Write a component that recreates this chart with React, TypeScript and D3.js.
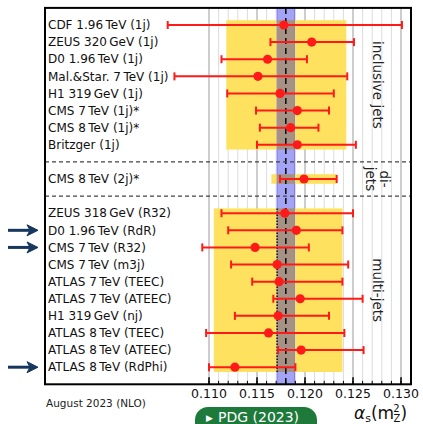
import * as d3 from 'd3'

// measurements, top to bottom
const labels = [
  'CDF 1.96\u2009TeV (1j)',
  'ZEUS 320\u2009GeV (1j)',
  'D0 1.96\u2009TeV (1j)',
  'Mal.&Star. 7\u2009TeV (1j)',
  'H1 319\u2009GeV (1j)',
  'CMS 7\u2009TeV (1j)*',
  'CMS 8\u2009TeV (1j)*',
  'Britzger (1j)',
  'CMS 8\u2009TeV (2j)*',
  'ZEUS 318\u2009GeV (R32)',
  'D0 1.96\u2009TeV (RdR)',
  'CMS 7\u2009TeV (R32)',
  'CMS 7\u2009TeV (m3j)',
  'ATLAS 7\u2009TeV (TEEC)',
  'ATLAS 7\u2009TeV (ATEEC)',
  'H1 319\u2009GeV (nj)',
  'ATLAS 8\u2009TeV (TEEC)',
  'ATLAS 8\u2009TeV (ATEEC)',
  'ATLAS 8\u2009TeV (RdPhi)',
]
const central = [
  0.1178, 0.1207, 0.1161, 0.1151, 0.1174, 0.1192, 0.1185, 0.1192,
  0.1199,
  0.1179, 0.1191, 0.1148, 0.1171, 0.1173, 0.1195, 0.1172, 0.1162, 0.1196, 0.1127,
]
const low = [
  0.1057, 0.1164, 0.1113, 0.1064, 0.1119, 0.1149, 0.1153, 0.1150,
  0.1174,
  0.1113, 0.1120, 0.1093, 0.1123, 0.1145, 0.1167, 0.1127, 0.1097, 0.1172, 0.1100,
]
const high = [
  0.1301, 0.1251, 0.1202, 0.1244, 0.1230, 0.1225, 0.1214, 0.1253,
  0.1233,
  0.1250, 0.1239, 0.1204, 0.1245, 0.1239, 0.1260, 0.1225, 0.1241, 0.1261, 0.1190,
]
const highlighted = ['D0 1.96\u2009TeV (RdR)', 'CMS 7\u2009TeV (R32)', 'ATLAS 8\u2009TeV (RdPhi)']

// groups
const groupSizes = [8, 1, 10]
const groupNames = [['inclusive jets'], ['di-', 'jets'], ['multi-jets']]
const groupLow = [0.1118, 0.1165, 0.1105]
const groupHigh = [0.1243, 0.1233, 0.1239]
const groupAverage = [null, null, 0.1171]

const pdgValue = 0.118
const pdgError = 0.0009

const W = 423
const H = 424
const font = 'DejaVu Sans, sans-serif'

export default function App() {
  const x = d3.scaleLinear().domain([0.11, 0.13]).range([209, 401])
  const y = d3.scaleLinear().domain([-1, 21]).range([7.9, 384.3])
  const frame = { left: 45, right: 411, top: 7.9, bottom: 384.3 }

  // row index per measurement: groups separated by one empty row
  const rowOf: number[] = []
  const groupRows: { first: number; last: number }[] = []
  let r = 0
  groupSizes.forEach((n) => {
    groupRows.push({ first: r, last: r + n - 1 })
    for (let i = 0; i < n; i++) rowOf.push(r++)
    r++
  })

  const major = x.ticks(4)
  const minor = x.ticks(20)
  const fmt = d3.format('.3f')
  const bandH = 0.28

  return (
    <svg width={W} height={H} style={{ position: 'absolute', left: 0, top: 0, background: '#fff' }} fontFamily={font}>
      {/* grid */}
      {minor.map((t) => (
        <line key={'g' + t} x1={x(t)} x2={x(t)} y1={frame.top} y2={frame.bottom} stroke="#dcdcdc" strokeWidth={1} />
      ))}
      {major.map((t) => (
        <line key={'G' + t} x1={x(t)} x2={x(t)} y1={frame.top} y2={frame.bottom} stroke="#b8b8b8" strokeWidth={1.2} />
      ))}

      {/* group bands */}
      {groupRows.map((g, i) => (
        <rect key={'yb' + i} x={x(groupLow[i])} width={x(groupHigh[i]) - x(groupLow[i])}
          y={y(g.first - bandH)} height={y(g.last + bandH) - y(g.first - bandH)} fill="#ffe160" />
      ))}

      {/* PDG band */}
      <rect x={x(pdgValue - pdgError)} width={x(pdgValue + pdgError) - x(pdgValue - pdgError)}
        y={frame.top} height={frame.bottom - frame.top} fill="#a4a4f6" stroke="#7a7af0" strokeWidth={1} />
      {groupRows.map((g, i) => {
        const lo = Math.max(groupLow[i], pdgValue - pdgError)
        const hi = Math.min(groupHigh[i], pdgValue + pdgError)
        return (
          <rect key={'ov' + i} x={x(lo)} width={x(hi) - x(lo)}
            y={y(g.first - bandH)} height={y(g.last + bandH) - y(g.first - bandH)} fill="#a69185" />
        )
      })}
      <line x1={x(pdgValue)} x2={x(pdgValue)} y1={frame.top} y2={frame.bottom} stroke="#111" strokeWidth={1.6} strokeDasharray="6,4" />
      {groupRows.map((g, i) => groupAverage[i] == null ? null : (
        <line key={'avg' + i} x1={x(groupAverage[i]!)} x2={x(groupAverage[i]!)}
          y1={y(g.first - bandH)} y2={y(g.last + bandH)} stroke="#111" strokeWidth={1.5} strokeDasharray="1.5,1.5" />
      ))}

      {/* group separators */}
      {groupRows.slice(0, -1).map((g, i) => (
        <line key={'sep' + i} x1={frame.left} x2={frame.right} y1={y(g.last + 1)} y2={y(g.last + 1)}
          stroke="#444" strokeWidth={1.2} strokeDasharray="4,3" />
      ))}

      {/* error bars */}
      {central.map((c, i) => {
        const yy = y(rowOf[i])
        return (
          <g key={'m' + i} stroke="#ff1a1a" strokeWidth={2}>
            <line x1={x(low[i])} x2={x(high[i])} y1={yy} y2={yy} />
            <line x1={x(low[i])} x2={x(low[i])} y1={yy - 4} y2={yy + 4} />
            <line x1={x(high[i])} x2={x(high[i])} y1={yy - 4} y2={yy + 4} />
            <circle cx={x(c)} cy={yy} r={4.6} fill="#ff1a1a" stroke="none" />
          </g>
        )
      })}

      {/* labels */}
      {labels.map((l, i) => (
        <text key={'l' + i} x={48} y={y(rowOf[i])} dy="0.35em" fontSize={12} fill="#111">{l}</text>
      ))}
      {labels.map((l, i) => highlighted.includes(l) ? (
        <g key={'a' + i} fill="#17375e" stroke="#17375e">
          <line x1={8} x2={30} y1={y(rowOf[i])} y2={y(rowOf[i])} strokeWidth={3} />
          <path d={`M27,${y(rowOf[i]) - 5.5} L38,${y(rowOf[i])} L27,${y(rowOf[i]) + 5.5} L30,${y(rowOf[i])} Z`} strokeWidth={1} strokeLinejoin="round" />
        </g>
      ) : null)}

      {/* group names */}
      {groupRows.map((g, i) => {
        const lines = groupNames[i]
        const cy = y((g.first + g.last) / 2)
        return (
          <text key={'gn' + i} transform={`translate(377,${cy}) rotate(90)`} textAnchor="middle" fontSize={13.5} fill="#222">
            {lines.map((s, k) => (
              <tspan key={k} x={0} y={(k - (lines.length - 1) / 2) * 14 + 4.5}>{s}</tspan>
            ))}
          </text>
        )
      })}

      {/* frame */}
      <rect x={frame.left} y={frame.top} width={frame.right - frame.left} height={frame.bottom - frame.top}
        fill="none" stroke="#000" strokeWidth={2} />

      {/* axis */}
      {minor.map((t) => (
        <line key={'mt' + t} x1={x(t)} x2={x(t)} y1={frame.bottom} y2={frame.bottom - 3.5} stroke="#000" strokeWidth={1} />
      ))}
      {major.map((t) => (
        <g key={'Mt' + t}>
          <line x1={x(t)} x2={x(t)} y1={frame.bottom} y2={frame.bottom - 7} stroke="#000" strokeWidth={1.5} />
          <text x={x(t)} y={398} textAnchor="middle" fontSize={12.5} fill="#111">{fmt(t)}</text>
        </g>
      ))}

      <text x={46} y={407} fontSize={10.5} fill="#222">August 2023 (NLO)</text>

      <rect x={195} y={407} width={122} height={30} rx={13} fill="#1d7a3a" />
      <text x={206} y={421} fontSize={9} fill="#fff">{'\u25B6'}</text>
      <text x={218} y={422} fontSize={14} fill="#fff">PDG (2023)</text>

      <text x={354} y={419} fontSize={17} fill="#111">
        <tspan fontStyle="italic">α</tspan>
        <tspan fontSize={11} dy={3}>s</tspan>
        <tspan dy={-3}>(m</tspan>
        <tspan fontSize={10} dx={-1} dy={-7}>2</tspan>
        <tspan fontSize={10} dx={-6} dy={10}>Z</tspan>
        <tspan dy={-3}>)</tspan>
      </text>
    </svg>
  )
}
